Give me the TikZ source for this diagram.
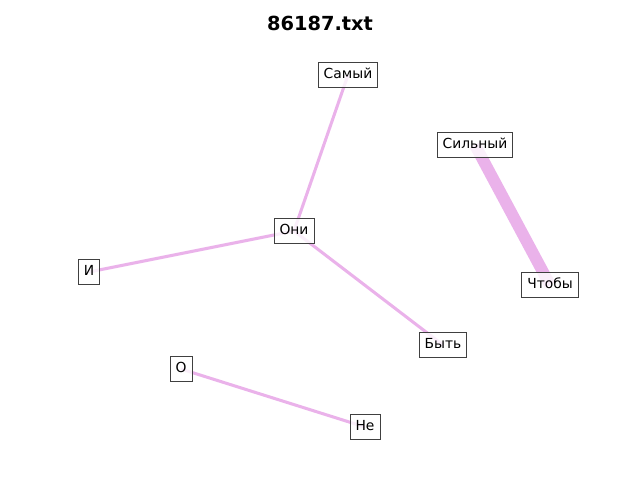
\documentclass[tikz,border=0pt]{standalone}
\usepackage{fontspec}
\setmainfont{DejaVu Sans}
\usetikzlibrary{backgrounds}

\definecolor{edgeviolet}{RGB}{234,178,234}
\definecolor{boxgray}{RGB}{64,64,64}

\tikzset{
    word/.style={draw=boxgray, line width=0.7pt, fill=white, fill opacity=0.8, text opacity=1,
        font=\fontsize{10}{12}\selectfont, inner xsep=4pt, inner ysep=4pt,
        text height=7.5pt, text depth=2pt},
    link/.style={edgeviolet, line width=2.2pt},
    strong link/.style={edgeviolet, line width=8.5pt}
}

\begin{document}
\begin{tikzpicture}[x=0.01in, y=-0.01in]
    \useasboundingbox (0,0) rectangle (640,480);

    \node[font=\fontsize{14}{16}\selectfont\bfseries] (title) at (320,23) {86187.txt};

    % words
    \node[word] (samyj) at (348,75) {Самый};
    \node[word] (silnyj) at (475,145) {Сильный};
    \node[word] (oni) at (294,231) {Они};
    \node[word] (i) at (89,272) {И};
    \node[word] (chtoby) at (550,285) {Чтобы};
    \node[word] (byt) at (443,345) {Быть};
    \node[word] (o) at (181,369) {О};
    \node[word] (ne) at (365,427) {Не};

    % links behind the boxes
    \begin{scope}[on background layer]
        \draw[link] (samyj.center) -- (oni.center);
        \draw[link] (oni.center) -- (i.center);
        \draw[link] (oni.center) -- (byt.center);
        \draw[link] (o.center) -- (ne.center);
        \draw[strong link] (silnyj.center) -- (chtoby.center);
    \end{scope}
\end{tikzpicture}
\end{document}
